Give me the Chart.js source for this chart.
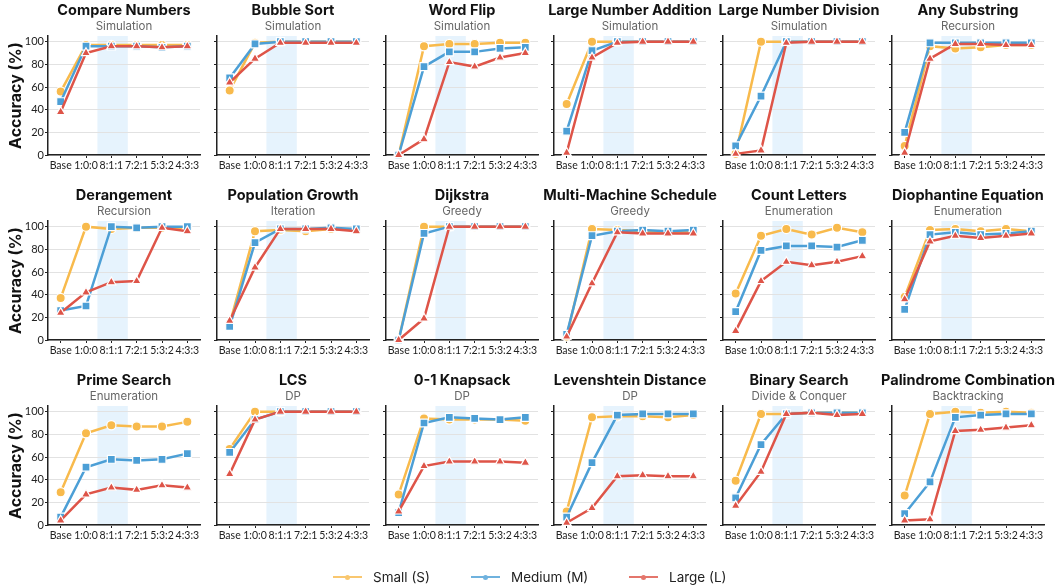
<!DOCTYPE html>
<html>
<head>
<meta charset="utf-8">
<script src="https://cdn.jsdelivr.net/npm/chart.js@4.4.1/dist/chart.umd.min.js"></script>
<style>
  body { margin: 0; background: #fff; font-family: Inter, "Noto Sans", sans-serif; }
  #page { position: relative; width: 1060px; height: 588px; overflow: hidden; }
  .cell { position: absolute; width: 212px; height: 180px; }
  .leg { position: absolute; top: 568px; height: 18px; display: flex; align-items: center; font-size: 13.5px; color: #222; }
  .leg .sw { position: relative; width: 29px; height: 2px; margin-right: 11px; }
  .leg .sw i { position: absolute; left: 12px; top: -1.5px; width: 5px; height: 5px; border-radius: 50%; }
</style>
</head>
<body>
<div id="page"></div>
<script>
const categories = ["Base", "1:0:0", "8:1:1", "7:2:1", "5:3:2", "4:3:3"];

const tasks = [
  "Compare Numbers", "Bubble Sort", "Word Flip", "Large Number Addition", "Large Number Division", "Any Substring",
  "Derangement", "Population Growth", "Dijkstra", "Multi-Machine Schedule", "Count Letters", "Diophantine Equation",
  "Prime Search", "LCS", "0-1 Knapsack", "Levenshtein Distance", "Binary Search", "Palindrome Combination"
];

const families = [
  "Simulation", "Simulation", "Simulation", "Simulation", "Simulation", "Recursion",
  "Recursion", "Iteration", "Greedy", "Greedy", "Enumeration", "Enumeration",
  "Enumeration", "DP", "DP", "DP", "Divide & Conquer", "Backtracking"
];

const seriesNames = ["Small (S)", "Medium (M)", "Large (L)"];
const seriesColors = ["#F8BA4C", "#4C9FD6", "#DE5448"];

const small = [
  [56, 97, 97, 97, 97, 97],
  [57, 99, 100, 100, 100, 100],
  [0, 96, 98, 98, 99, 99],
  [45, 100, 100, 100, 100, 100],
  [1, 100, 100, 100, 100, 100],
  [8, 96, 94, 95, 97, 97],
  [37, 100, 98, 99, 99, 99],
  [14, 96, 97, 96, 98, 97],
  [0, 100, 100, 100, 100, 100],
  [3, 98, 97, 96, 95, 96],
  [41, 92, 98, 93, 99, 95],
  [38, 97, 98, 96, 98, 96],
  [29, 81, 88, 87, 87, 91],
  [67, 100, 100, 100, 100, 100],
  [27, 94, 93, 93, 93, 92],
  [12, 95, 96, 96, 95, 97],
  [39, 98, 98, 99, 99, 99],
  [26, 98, 100, 99, 100, 99]
];

const medium = [
  [47, 96, 96, 96, 95, 96],
  [68, 98, 100, 100, 100, 100],
  [0, 78, 91, 91, 94, 95],
  [21, 92, 100, 100, 100, 100],
  [8, 52, 100, 100, 100, 100],
  [20, 99, 99, 99, 99, 99],
  [26, 30, 100, 99, 100, 100],
  [12, 86, 98, 98, 99, 98],
  [0, 94, 100, 100, 100, 100],
  [5, 92, 96, 97, 96, 97],
  [25, 79, 83, 83, 82, 88],
  [27, 93, 95, 93, 94, 96],
  [7, 51, 58, 57, 58, 63],
  [64, 93, 100, 100, 100, 100],
  [11, 90, 95, 94, 93, 95],
  [7, 55, 97, 98, 98, 98],
  [24, 71, 98, 99, 99, 99],
  [10, 38, 95, 97, 98, 98]
];

const large = [
  [38, 90, 96, 96, 95, 96],
  [64, 85, 99, 99, 99, 99],
  [0, 14, 82, 78, 86, 90],
  [2, 86, 99, 100, 100, 100],
  [1, 4, 99, 100, 100, 100],
  [2, 85, 98, 98, 97, 97],
  [24, 42, 51, 52, 99, 96],
  [17, 64, 98, 98, 98, 96],
  [0, 19, 100, 100, 100, 100],
  [3, 50, 95, 94, 94, 94],
  [8, 52, 69, 66, 69, 74],
  [36, 87, 92, 90, 92, 94],
  [4, 27, 33, 31, 35, 33],
  [45, 93, 100, 100, 100, 100],
  [12, 52, 56, 56, 56, 55],
  [2, 15, 43, 44, 43, 43],
  [17, 47, 98, 99, 97, 98],
  [4, 5, 83, 84, 86, 88]
];

// y-axis x position of each column, top of each row
const colX = [48, 217, 386, 554, 723, 892];
const rowY = [0, 185, 370];

// titles + shaded band behind the 8:1:1 mix
const panelDecor = {
  id: "panelDecor",
  beforeDraw(chart, args, opts) {
    const { ctx, chartArea } = chart;
    const xs = chart.scales.x;
    const x0 = xs.getPixelForValue(1.45);
    const x1 = xs.getPixelForValue(2.65);
    ctx.save();
    ctx.fillStyle = "#E6F3FD";
    ctx.fillRect(x0, chartArea.top, x1 - x0, chartArea.bottom - chartArea.top);
    const cx = (chartArea.left + chartArea.right) / 2;
    ctx.textAlign = "center";
    ctx.textBaseline = "middle";
    ctx.fillStyle = "#111";
    ctx.font = "bold 14.5px Inter";
    ctx.fillText(opts.title, cx, 11);
    ctx.fillStyle = "#666";
    ctx.font = "11.5px Inter";
    ctx.fillText(opts.family, cx, 27);
    ctx.restore();
  }
};

const page = document.getElementById("page");
const styles = ["circle", "rect", "triangle"];
const radii = [4.6, 5.6, 5.2];
const values = [small, medium, large];

tasks.forEach((task, i) => {
  const row = Math.floor(i / 6), col = i % 6;
  const div = document.createElement("div");
  div.className = "cell";
  div.style.left = (colX[col] - 48) + "px";
  div.style.top = rowY[row] + "px";
  const canvas = document.createElement("canvas");
  canvas.width = 212;
  canvas.height = 180;
  div.appendChild(canvas);
  page.appendChild(div);

  new Chart(canvas, {
    type: "line",
    data: {
      labels: categories,
      datasets: values.map((v, k) => ({
        label: seriesNames[k],
        data: v[i],
        borderColor: seriesColors[k],
        backgroundColor: seriesColors[k],
        borderWidth: 2.5,
        pointStyle: styles[k],
        pointRadius: radii[k],
        pointBorderColor: "#fff",
        pointBorderWidth: 1.2,
        order: 3 - k,
        clip: false,
      })),
    },
    options: {
      responsive: false,
      animation: false,
      layout: { padding: { top: 36, right: 12, left: 0, bottom: 0 } },
      plugins: {
        legend: { display: false },
        tooltip: { enabled: false },
        panelDecor: { title: task, family: families[i] },
      },
      scales: {
        x: {
          offset: true,
          afterFit(s) { s.height = 25; },
          border: { color: "#222", width: 1.5 },
          grid: { drawOnChartArea: false, tickColor: "#222", tickLength: 3 },
          ticks: { color: "#222", font: { family: "Lato", size: 10.5 }, padding: 1, maxRotation: 0, autoSkip: false },
        },
        y: {
          min: 0,
          max: 105,
          afterFit(s) { s.width = 48; },
          border: { color: "#222", width: 1.5 },
          grid: { color: "#E2E2E2", tickColor: "#222", tickLength: 3 },
          ticks: {
            stepSize: 20,
            includeBounds: false,
            padding: 1,
            color: "#222",
            font: { family: "Lato", size: 11 },
            callback: v => (col === 0 ? v : ""),
          },
          title: {
            display: col === 0,
            text: "Accuracy (%)",
            color: "#111",
            font: { family: "Inter", size: 16, weight: "bold" },
            padding: { top: 7, bottom: 0 },
          },
        },
      },
    },
    plugins: [panelDecor],
  });
});

// legend
const legendLeft = [333, 471, 629];
seriesNames.forEach((name, k) => {
  const item = document.createElement("div");
  item.className = "leg";
  item.style.left = legendLeft[k] + "px";
  item.innerHTML = `<span class="sw" style="background:${seriesColors[k]};opacity:0.8"><i style="background:${seriesColors[k]}"></i></span>${name}`;
  page.appendChild(item);
});
</script>
</body>
</html>
